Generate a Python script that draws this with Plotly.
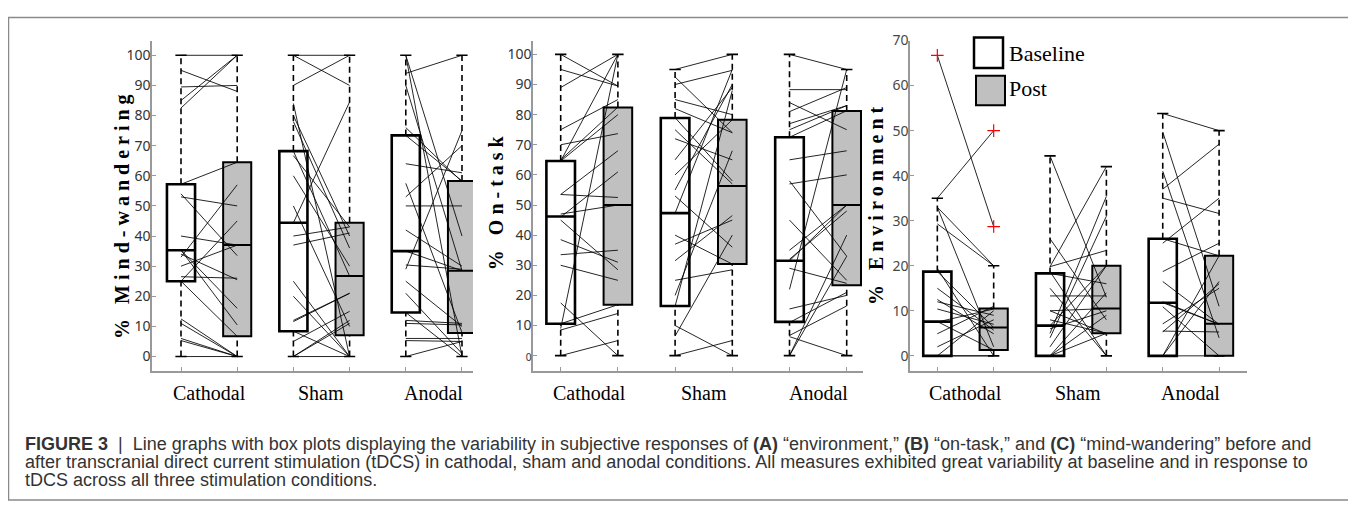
import plotly.graph_objects as go

# ---------------- data ----------------
conditions = ["Cathodal", "Sham", "Anodal"]
base_pos = [1, 3, 5]
post_pos = [2, 4, 6]

# % Mind-wandering : individual subjects (baseline, post)
mw_cath_base = [100, 95, 89.5, 85, 82.5, 57.2, 54, 53, 40, 35.3, 34, 33, 26.5, 25, 25, 12.5, 11, 6, 5.3, 0, 35.3, 30]
mw_cath_post = [100, 88, 90, 100, 100, 64.5, 33.5, 50, 37, 16, 25.5, 57, 26, 45, 6.7, 0, 0, 0, 0, 0, 10.5, 37]
mw_sham_base = [100, 100, 90, 84, 80, 78, 66.7, 60, 50, 44.4, 40, 37, 25, 20, 12, 11.6, 8.4, 5, 0, 0, 0, 68.2]
mw_sham_post = [100, 90, 100, 0, 40, 36, 43, 30, 10, 84.5, 43, 41, 0, 0, 21, 21, 0, 15, 12, 11, 0, 26.7]
mw_anod_base = [100, 94, 90, 76, 64, 57.5, 53, 50, 42, 35, 30.4, 29, 25, 21, 12, 11, 6, 5.3, 0, 73.4, 14.6, 100]
mw_anod_post = [40, 100, 28.5, 58, 61, 8, 70, 50, 30, 28.5, 29, 75, 10, 1, 11, 10.5, 6, 5, 5, 58.3, 0, 0]

# % On-task
ot_cath_base = [100, 95, 89, 75, 70, 64.6, 64.6, 53.5, 53.5, 47, 46, 45, 38.5, 33.5, 30, 17.5, 8.5, 9, 0, 10.6, 65]
ot_cath_post = [89.5, 89.5, 100, 85, 73.7, 100, 80, 52.5, 68, 50, 61, 28.5, 31, 35, 25, 0, 14, 100, 5, 16.9, 82.5]
ot_sham_base = [95, 92.5, 90, 85, 82, 79, 75, 72, 65, 55, 53, 47.3, 37, 31.5, 25, 20, 16.4, 10, 6.5, 0, 60, 40]
ot_sham_post = [100, 74, 94.7, 80, 74, 58, 57, 65, 89, 90, 36, 95, 45, 46.5, 28.5, 68, 88, 0, 40, 5, 78.3, 30.4]
ot_anod_base = [100, 88.3, 84, 81, 77, 75, 65, 57, 58, 45, 35, 32, 29, 22, 15.5, 11, 6.7, 6.3, 0, 0, 72.5, 31.5]
ot_anod_post = [95, 88.3, 75, 89, 83, 83, 68, 60, 33, 25, 50, 48, 24, 95, 20, 21, 16.5, 0, 40, 33, 81.3, 50]

# % Environment
en_cath_base = [66.7, 35, 33, 29.3, 33, 19.4, 15, 12.5, 10.4, 7.5, 4.9, 0, 0, 18.7, 7.6, 2, 0, 12]
en_cath_post = [28.7, 50, 20, 20, 2, 0, 5.7, 4.9, 7, 10.4, 11, 10, 0, 6.3, 1.3, 8, 0, 9]
en_sham_base = [44.4, 26, 19.8, 5, 4, 19.8, 18.3, 13.3, 10, 6, 0, 0, 0, 10, 18.7, 6.7, 2, 15, 8]
en_sham_post = [13, 8, 42, 35.4, 31, 23.4, 16, 13.3, 10.5, 10, 9, 5, 14, 4.9, 0, 20, 20, 0, 5]
en_anod_base = [53.8, 49.7, 41, 37, 35, 25, 26, 18.7, 16.5, 12, 10.9, 7.1, 5.3, 0, 5.5, 0, 11.8, 0]
en_anod_post = [50, 11, 4, 47, 31.6, 35, 22.2, 25, 7, 7, 0, 15, 16, 16.5, 5.3, 0, 7, 22.2]

# box statistics (Cathodal, Sham, Anodal)
mw_base_lo = [0, 0, 0];      mw_base_q1 = [25, 8.4, 14.6];   mw_base_med = [35.3, 44.4, 35];   mw_base_q3 = [57.2, 68.2, 73.4];  mw_base_hi = [100, 100, 100]
mw_post_lo = [0, 0, 0];      mw_post_q1 = [6.7, 7.1, 7.8];   mw_post_med = [37, 26.7, 28.5];   mw_post_q3 = [64.5, 44.4, 58.3];  mw_post_hi = [100, 100, 100]
ot_base_lo = [0, 0, 0];      ot_base_q1 = [10.6, 16.5, 11.2]; ot_base_med = [46.2, 47.3, 31.5]; ot_base_q3 = [64.6, 78.9, 72.5]; ot_base_hi = [100, 95, 100]
ot_post_lo = [0, 0, 0];      ot_post_q1 = [16.9, 30.4, 23.4]; ot_post_med = [50, 56.3, 50];     ot_post_q3 = [82.4, 78.3, 81.2]; ot_post_hi = [100, 100, 95]
en_base_lo = [0, 0, 0];      en_base_q1 = [0, 0, 0];          en_base_med = [7.6, 6.7, 11.8];   en_base_q3 = [18.7, 18.3, 26];    en_base_hi = [35, 44.4, 53.8]
en_post_lo = [0, 0, 0];      en_post_q1 = [1.3, 5, 0];        en_post_med = [6.3, 10.5, 7.1];   en_post_q3 = [10.5, 20, 22.2];    en_post_hi = [20, 42, 50]

# outliers
en_base_out_x = [1];    en_base_out_y = [66.7]
en_post_out_x = [2, 2]; en_post_out_y = [50, 28.7]

y_titles = ["% Mind-wandering", "% On-task", "% Environment"]
mw_ticks = list(range(0, 101, 10))
en_ticks = list(range(0, 71, 10))

caption_lines = [
    "<b>FIGURE 3</b>\u00a0 |\u00a0 Line graphs with box plots displaying the variability in subjective responses of <b>(A)</b> “environment,” <b>(B)</b> “on-task,” and <b>(C)</b> “mind-wandering” before and",
    "after transcranial direct current stimulation (tDCS) in cathodal, sham and anodal conditions. All measures exhibited great variability at baseline and in response to",
    "tDCS across all three stimulation conditions.",
]

# ---------------- figure ----------------
OFF = 8            # page body margin
W, H = 1348, 493


def px(X):
    return (X - OFF) / W


def py(Y):
    return 1 - (Y - OFF) / H


fig = go.Figure()

panels = [
    dict(pairs=[(mw_cath_base, mw_cath_post), (mw_sham_base, mw_sham_post), (mw_anod_base, mw_anod_post)],
         b=(mw_base_lo, mw_base_q1, mw_base_med, mw_base_q3, mw_base_hi),
         p=(mw_post_lo, mw_post_q1, mw_post_med, mw_post_q3, mw_post_hi)),
    dict(pairs=[(ot_cath_base, ot_cath_post), (ot_sham_base, ot_sham_post), (ot_anod_base, ot_anod_post)],
         b=(ot_base_lo, ot_base_q1, ot_base_med, ot_base_q3, ot_base_hi),
         p=(ot_post_lo, ot_post_q1, ot_post_med, ot_post_q3, ot_post_hi)),
    dict(pairs=[(en_cath_base, en_cath_post), (en_sham_base, en_sham_post), (en_anod_base, en_anod_post)],
         b=(en_base_lo, en_base_q1, en_base_med, en_base_q3, en_base_hi),
         p=(en_post_lo, en_post_q1, en_post_med, en_post_q3, en_post_hi)),
]

CAP = 0.1
for k, pan in enumerate(panels, start=1):
    xa = "x" if k == 1 else f"x{k}"
    ya = "y" if k == 1 else f"y{k}"
    for pos, st, fill, lw in [(base_pos, pan["b"], "white", 2.6), (post_pos, pan["p"], "#c0c0c0", 2.0)]:
        lo, q1, med, q3, hi = st
        fig.add_trace(go.Box(x=pos, q1=q1, median=med, q3=q3, lowerfence=q1, upperfence=q3,
                             width=0.5, whiskerwidth=0, fillcolor=fill,
                             line=dict(color="black", width=lw), boxpoints=False,
                             xaxis=xa, yaxis=ya, showlegend=False, hoverinfo="skip"))
        wx, wy, cx, cy = [], [], [], []
        for p_, l_, a_, b_, h_ in zip(pos, lo, q1, q3, hi):
            wx += [p_, p_, None, p_, p_, None]
            wy += [l_, a_, None, b_, h_, None]
            cx += [p_ - CAP, p_ + CAP, None, p_ - CAP, p_ + CAP, None]
            cy += [h_, h_, None, l_, l_, None]
        fig.add_trace(go.Scatter(x=wx, y=wy, mode="lines", line=dict(color="black", width=1.6, dash="6px,4px"),
                                 xaxis=xa, yaxis=ya, showlegend=False, hoverinfo="skip"))
        fig.add_trace(go.Scatter(x=cx, y=cy, mode="lines", line=dict(color="black", width=1.6),
                                 xaxis=xa, yaxis=ya, showlegend=False, hoverinfo="skip"))
    for (bv, pv), bp, pp in zip(pan["pairs"], base_pos, post_pos):
        lx, ly = [], []
        for b_, p_ in zip(bv, pv):
            lx += [bp, pp, None]
            ly += [b_, p_, None]
        fig.add_trace(go.Scatter(x=lx, y=ly, mode="lines", line=dict(color="rgba(0,0,0,0.85)", width=1),
                                 xaxis=xa, yaxis=ya, showlegend=False, hoverinfo="skip"))

fig.add_trace(go.Scatter(x=en_base_out_x + en_post_out_x, y=en_base_out_y + en_post_out_y, mode="markers",
                         marker=dict(symbol="cross-thin", size=9, line=dict(color="red", width=1.2)),
                         xaxis="x3", yaxis="y3", showlegend=False, hoverinfo="skip"))

xdoms = [[px(152), px(473)], [px(533), px(863)], [px(910), px(1246.7)]]
xranges = [[0.484, 6.196], [0.516, 6.285], [0.515, 6.49]]
yranges = [[-4.7, 104.9], [-5.0, 104.6], [-3.3, 70.0]]
ydom = [py(368), py(31)]

axis_common = dict(showline=True, linecolor="#999999", linewidth=1.5, showgrid=False, zeroline=False,
                   ticks="inside", ticklen=4, tickcolor="#999999", tickwidth=1)
layout = dict(width=W, height=H, margin=dict(l=0, r=0, t=0, b=0), paper_bgcolor="white",
              plot_bgcolor="rgba(0,0,0,0)", showlegend=False)
for k in range(1, 4):
    xk = "xaxis" if k == 1 else f"xaxis{k}"
    yk = "yaxis" if k == 1 else f"yaxis{k}"
    anchor_x = "y" if k == 1 else f"y{k}"
    anchor_y = "x" if k == 1 else f"x{k}"
    layout[xk] = dict(axis_common, domain=xdoms[k - 1], range=xranges[k - 1], anchor=anchor_x,
                      tickvals=base_pos + post_pos, showticklabels=False)
    ticks = en_ticks if k == 3 else mw_ticks
    ttext = [str(t) for t in ticks]
    if k == 2:
        ttext[0] = '<span style="font-size:10px">0</span>'
    layout[yk] = dict(axis_common, domain=ydom, range=yranges[k - 1], anchor=anchor_y,
                      tickvals=ticks, ticktext=ttext, ticklabelstandoff=-3,
                      tickfont=dict(family="Noto Sans", size=14, color="#333333" if k < 3 else "#474747"))
fig.update_layout(**layout)

ann = []
# condition labels
for k in range(1, 4):
    xa = "x" if k == 1 else f"x{k}"
    for c, bp, pp in zip(conditions, base_pos, post_pos):
        ann.append(dict(x=(bp + pp) / 2, y=py(391), xref=xa, yref="paper", text=c, showarrow=False,
                        xanchor="center", yanchor="middle",
                        font=dict(family="Liberation Serif", size=20, color="black")))
# y titles
SP = "\u2005"
title_pos = [(123, 211), (496, 197), (876, 200)]
for t, (tx, ty) in zip(y_titles, title_pos):
    spaced = SP.join(list(t))
    ann.append(dict(x=px(tx), y=py(ty), xref="paper", yref="paper", text="<b>" + spaced + "</b>",
                    textangle=-90, showarrow=False, xanchor="center", yanchor="middle",
                    font=dict(family="Liberation Serif", size=20, color="black")))
# legend text
ann.append(dict(x=px(1007), y=py(44), xref="paper", yref="paper", text="Baseline", showarrow=False,
                xanchor="left", yanchor="middle", font=dict(family="Liberation Serif", size=22, color="black")))
ann.append(dict(x=px(1007), y=py(80), xref="paper", yref="paper", text="Post", showarrow=False,
                xanchor="left", yanchor="middle", font=dict(family="Liberation Serif", size=22, color="black")))
# caption
for line, ly_ in zip(caption_lines, [443, 461.5, 480]):
    ann.append(dict(x=px(23), y=py(ly_), xref="paper", yref="paper", text=line, showarrow=False,
                    xanchor="left", yanchor="middle", align="left",
                    font=dict(family="Liberation Sans", size=18, color="#333333")))
fig.update_layout(annotations=ann)

shapes = [
    dict(type="rect", xref="paper", yref="paper", x0=px(8.5), x1=px(1352), y0=py(500), y1=py(7.5),
         line=dict(color="#8a8a8a", width=1.5), fillcolor="rgba(0,0,0,0)", layer="below"),
    dict(type="rect", xref="paper", yref="paper", x0=px(974), x1=px(1003), y0=py(59), y1=py(28),
         line=dict(color="black", width=2.5), fillcolor="white"),
    dict(type="rect", xref="paper", yref="paper", x0=px(976), x1=px(1005), y0=py(97), y1=py(67),
         line=dict(color="black", width=2), fillcolor="#c0c0c0"),
]
fig.update_layout(shapes=shapes)

fig.write_html("out.html")
